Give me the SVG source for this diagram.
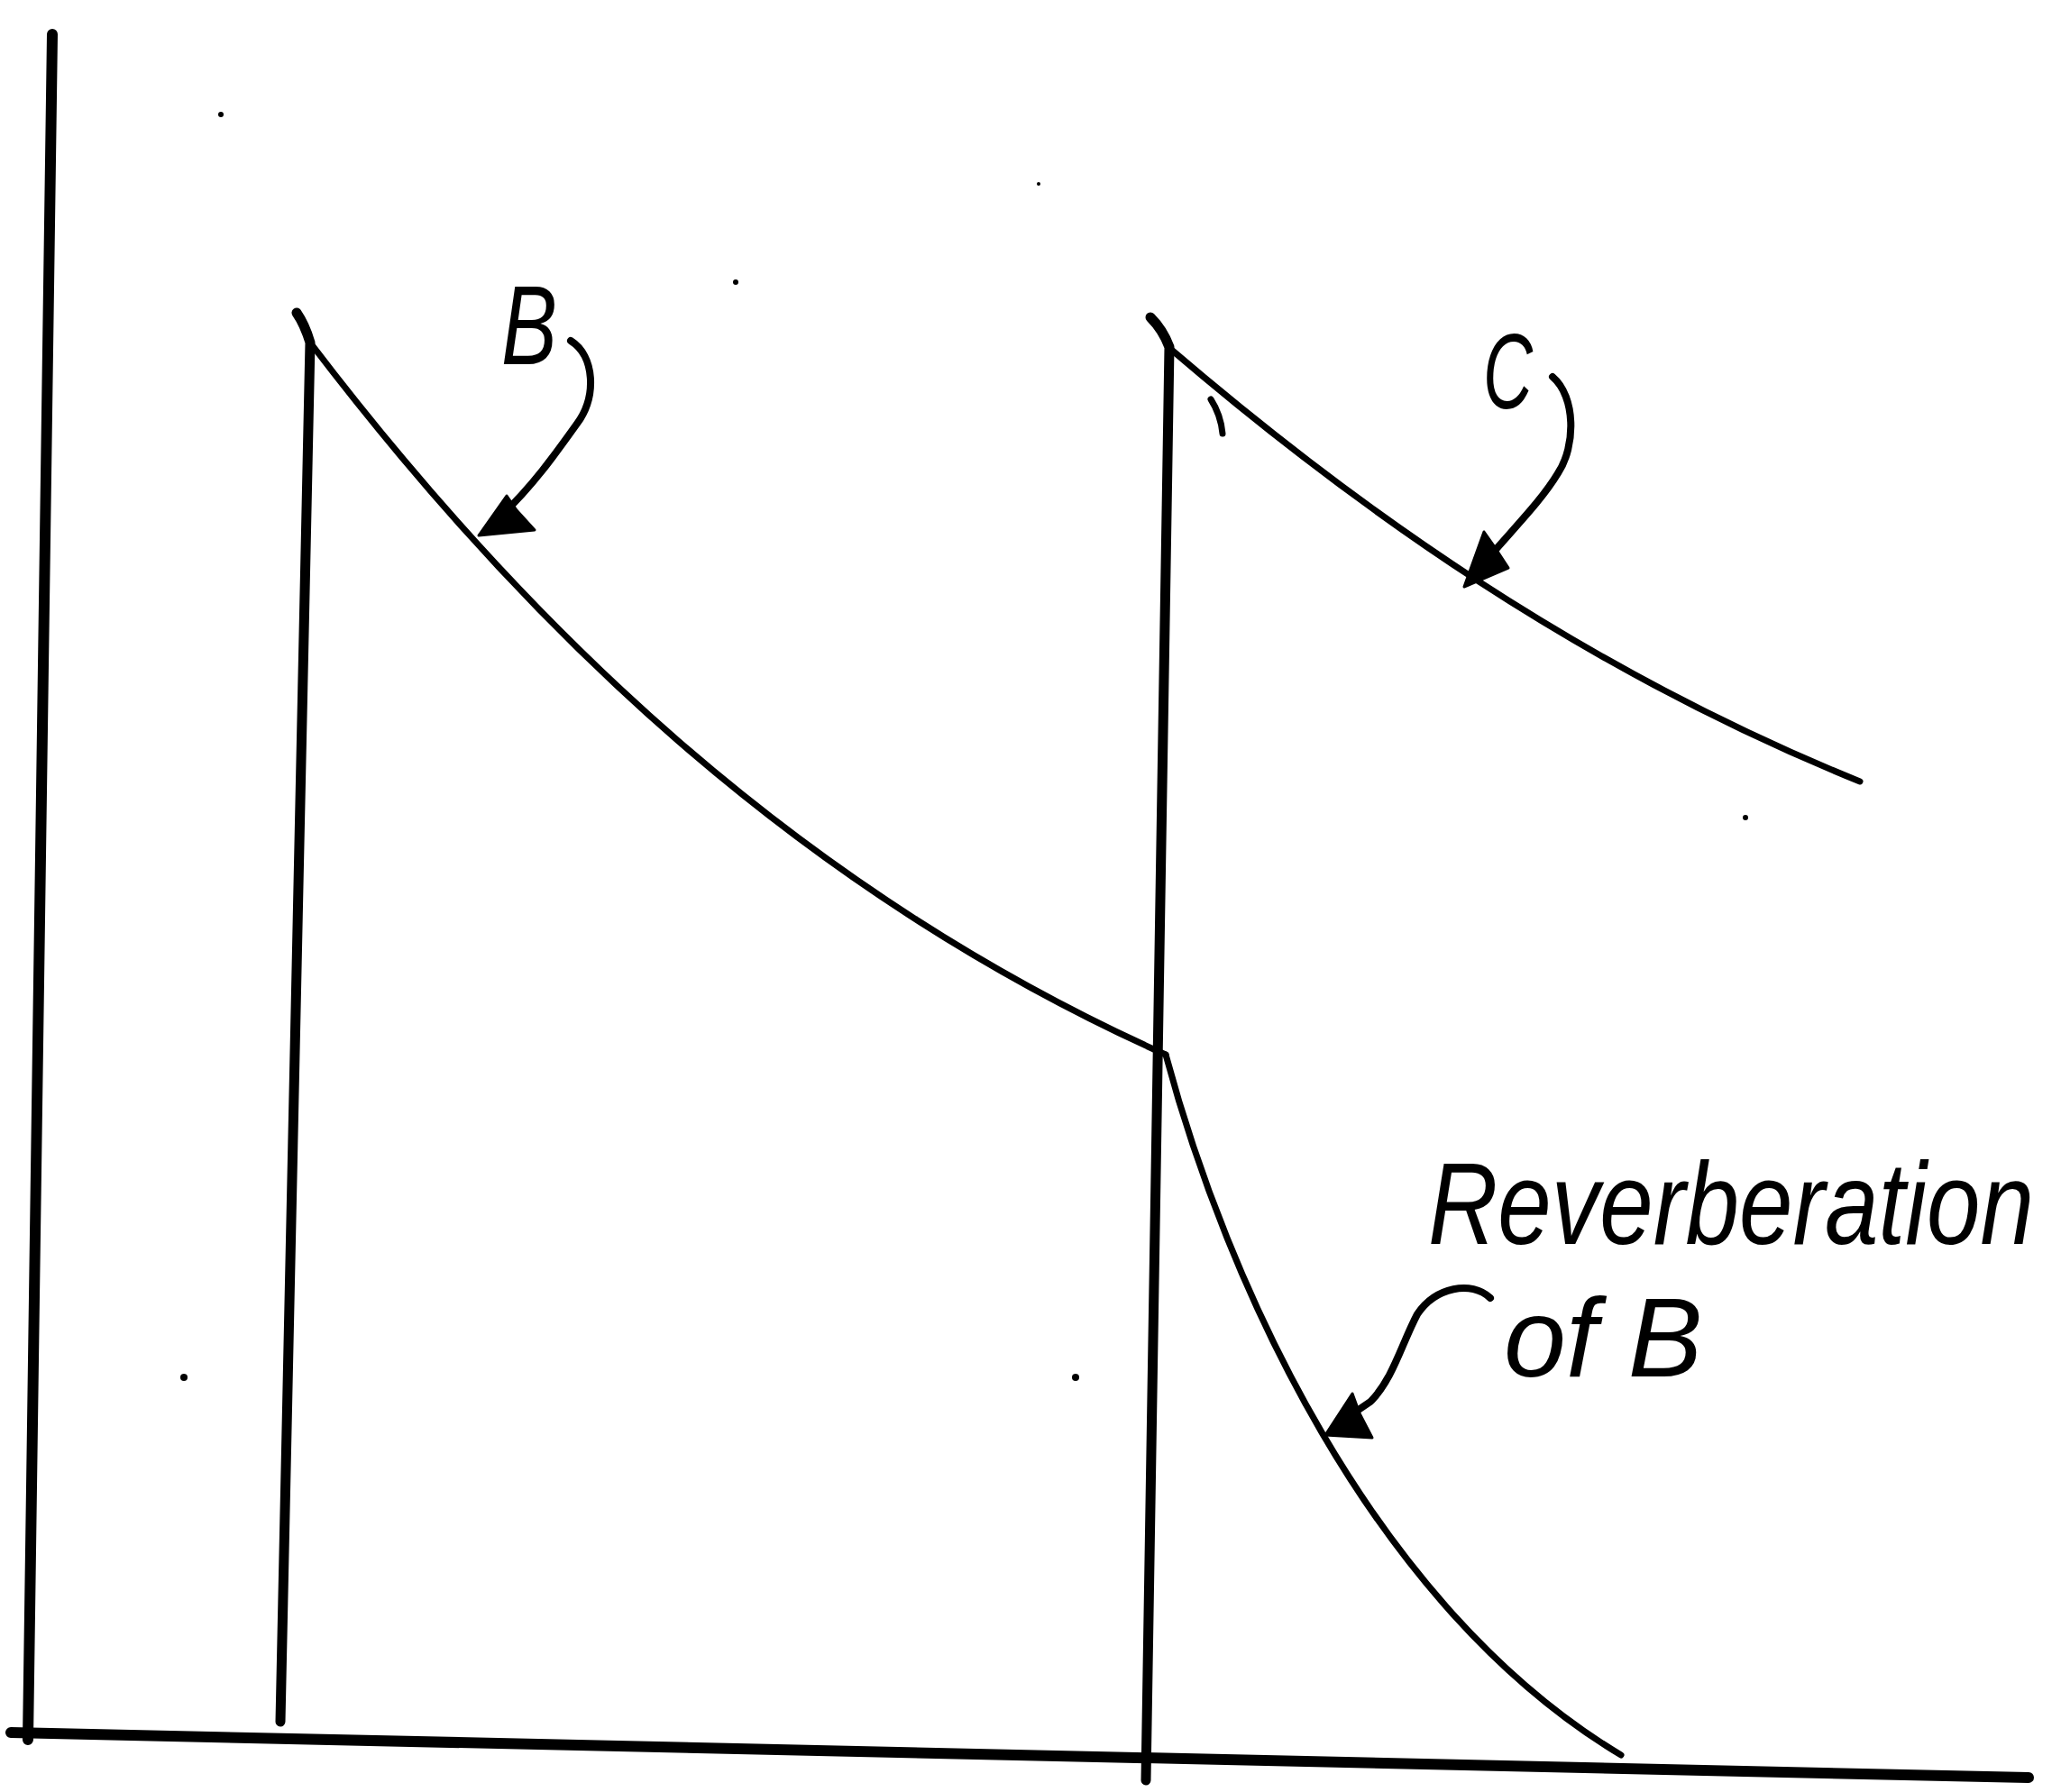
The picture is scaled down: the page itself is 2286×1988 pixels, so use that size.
<svg xmlns="http://www.w3.org/2000/svg" width="2286" height="1988" viewBox="0 0 2286 1988">
<style>
.ax{fill:none;stroke:#000;stroke-width:12;stroke-linecap:round;stroke-linejoin:round}
.v{fill:none;stroke:#000;stroke-width:11;stroke-linecap:round;stroke-linejoin:round}
.cv{fill:none;stroke:#000;stroke-width:7;stroke-linecap:round;stroke-linejoin:round}
.ar{fill:none;stroke:#000;stroke-width:8;stroke-linecap:round;stroke-linejoin:round}
.hd{fill:#000;stroke:#000;stroke-width:3;stroke-linejoin:round}
.t{font-family:"Liberation Sans",Arial,sans-serif;font-style:italic;fill:#000}
.dot{fill:#000}
</style>
<rect width="2286" height="1988" fill="#fff"/>
<g id="axes">
<path class="ax" d="M58,38 L31,1930"/>
<path class="ax" d="M12,1922 L2250,1972"/>
</g>
<g id="pulse-B">
<path class="v" d="M329,347 Q338,360 344,380 L311,1910"/>
<path class="cv" d="M344,380 C580,690 880,985 1293,1170"/>
</g>
<g id="pulse-C">
<path class="v" d="M1276,352 Q1290,366 1297,385 L1271,1975"/>
<path class="cv" d="M1297,386 C1500,560 1750,740 2063,867"/>
<path class="cv" d="M1343,443 Q1354,460 1356,481" stroke-width="5"/>
</g>
<g id="reverberation-B">
<path class="cv" d="M1293,1170 C1360,1420 1520,1780 1798,1947"/>
</g>
<g id="label-B">
<text class="t" x="556" y="404" font-size="124" textLength="62" lengthAdjust="spacingAndGlyphs">B</text>
</g>
<g id="label-C">
<text class="t" x="1645" y="453" font-size="118" textLength="55" lengthAdjust="spacingAndGlyphs">C</text>
</g>
<g id="label-reverberation">
<text class="t" transform="translate(1584,1380) scale(1,1.22)" x="0" y="0" font-size="107">Reverberation</text>
<text class="t" x="1668" y="1527" font-size="124">of B</text>
</g>
<g id="connectors">
<path class="ar" d="M633,378 C660,395 662,440 640,470 C615,505 590,540 556,572"/>
<path class="hd" d="M531,594 L562,550 L573,566 L593,588 Z"/>
<path class="ar" d="M1722,418 C1748,440 1748,495 1728,525 C1710,555 1680,585 1650,620"/>
<path class="hd" d="M1624,651 L1646,590 L1658,607 L1673,630 Z"/>
<path class="ar" d="M1653,1440 C1632,1420 1592,1428 1572,1458 C1555,1490 1545,1530 1520,1555 L1495,1572"/>
<path class="hd" d="M1470,1592 L1500,1546 L1508,1568 L1522,1595 Z"/>
</g>
<g id="specks">
<circle class="dot" cx="245" cy="127" r="3"/>
<circle class="dot" cx="816" cy="313" r="3"/>
<circle class="dot" cx="1152" cy="204" r="2"/>
<circle class="dot" cx="1936" cy="907" r="3"/>
<circle class="dot" cx="204" cy="1528" r="4"/>
<circle class="dot" cx="1193" cy="1528" r="4"/>
</g>
</svg>
